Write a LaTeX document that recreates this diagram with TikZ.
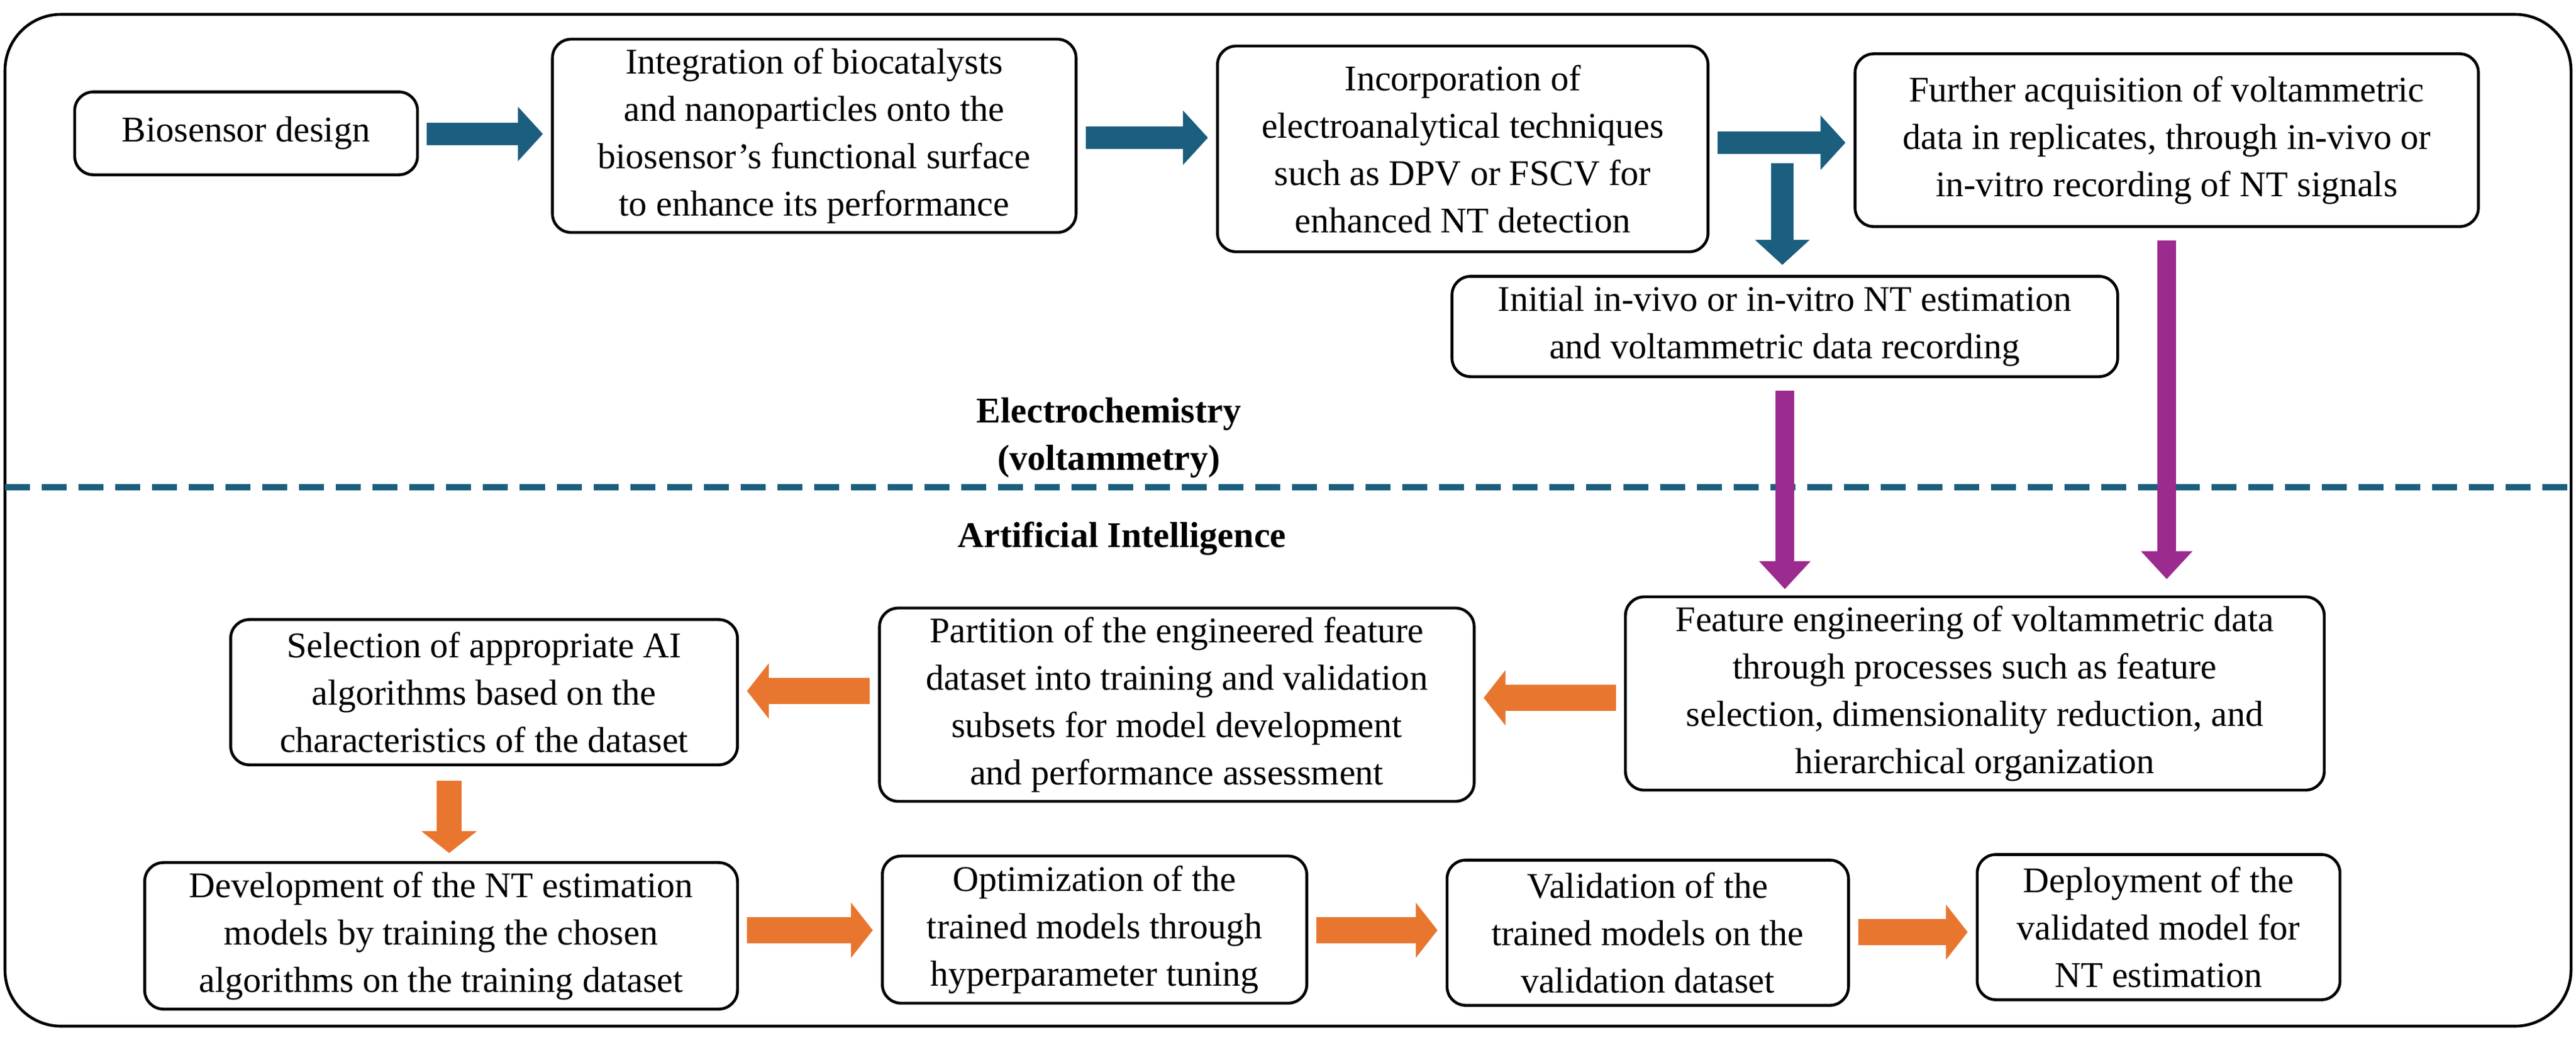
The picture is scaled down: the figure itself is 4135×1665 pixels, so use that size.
\documentclass[tikz,border=0pt]{standalone}
\usepackage{fontspec}
\setmainfont{Liberation Serif}
\usetikzlibrary{arrows.meta}
\definecolor{cblue}{HTML}{1B5E7E}
\definecolor{cpurp}{HTML}{9B2B8E}
\definecolor{corng}{HTML}{E8762F}
\begin{document}
\begin{tikzpicture}[x=0.01cm,y=-0.01cm,
  box/.style={draw,line width=1.3pt,rounded corners=0.3cm,fill=white,align=center,inner sep=0pt,
    font=\fontsize{16.5}{21.6}\selectfont},
  barrow/.style={line width=0.36cm,-{Triangle[width=0.85cm,length=0.4cm]},shorten <=0.13cm,shorten >=0.13cm},
  blue arrow/.style={barrow,draw=cblue},
  purple arrow/.style={line width=0.3cm,-{Triangle[width=0.8cm,length=0.45cm]},draw=cpurp,shorten <=0.2cm,shorten >=0.1cm},
  orange arrow/.style={barrow,draw=corng,line width=0.42cm,-{Triangle[width=0.87cm,length=0.35cm]}},
  lab/.style={font=\fontsize{16.5}{21.6}\selectfont\bfseries,align=center}]
\useasboundingbox (0,0) rectangle (4135,1665);
\draw[line width=1.3pt,rounded corners=0.9cm] (8,23) rectangle (4127,1647);
% top boxes
\node[box,minimum width=5.5cm,minimum height=1.33cm] (b1) at (395,214) {Biosensor design};
\node[box,minimum width=8.4cm,minimum height=3.1cm] (b2) at (1307,218) {Integration of biocatalysts\\and nanoparticles onto the\\biosensor’s functional surface\\to enhance its performance};
\node[box,minimum width=7.87cm,minimum height=3.3cm] (b3) at (2348,239) {Incorporation of\\electroanalytical techniques\\such as DPV or FSCV for\\enhanced NT detection};
\node[box,minimum width=10.0cm,minimum height=2.77cm] (b4) at (3478,225) {Further acquisition of voltammetric\\data in replicates, through in-vivo or\\in-vitro recording of NT signals};
\node[box,minimum width=10.68cm,minimum height=1.61cm] (b5) at (2865,524) {Initial in-vivo or in-vitro NT estimation\\and voltammetric data recording};
\node[lab] (ec) at (1780,703) {Electrochemistry\\(voltammetry)};
\node[lab] (ai) at (1801,864) {Artificial Intelligence};
\coordinate (dl) at (8,782); \coordinate (dr) at (4127,782);
\draw[cblue,line width=0.1cm,dash pattern=on 0.4cm off 0.19cm] (dl) -- (dr);
% bottom boxes
\node[box,minimum width=11.21cm,minimum height=3.1cm] (f) at (3170,1113) {Feature engineering of voltammetric data\\through processes such as feature\\selection, dimensionality reduction, and\\hierarchical organization};
\node[box,minimum width=9.54cm,minimum height=3.1cm] (p) at (1889,1131) {Partition of the engineered feature\\dataset into training and validation\\subsets for model development\\and performance assessment};
\node[box,minimum width=8.13cm,minimum height=2.33cm] (s) at (777,1111) {Selection of appropriate AI\\algorithms based on the\\characteristics of the dataset};
\node[box,minimum width=9.51cm,minimum height=2.35cm] (d) at (708,1502) {Development of the NT estimation\\models by training the chosen\\algorithms on the training dataset};
\node[box,minimum width=6.81cm,minimum height=2.36cm] (o) at (1757,1492) {Optimization of the\\trained models through\\hyperparameter tuning};
\node[box,minimum width=6.44cm,minimum height=2.33cm] (v) at (2645,1497) {Validation of the\\trained models on the\\validation dataset};
\node[box,minimum width=5.82cm,minimum height=2.33cm] (dp) at (3465,1488) {Deployment of the\\validated model for\\NT estimation};
% arrows
\draw[blue arrow] (b1.east |- 0,215) -- (b2.west |- 0,215);
\draw[blue arrow] (b2.east |- 0,221) -- (b3.west |- 0,221);
\draw[blue arrow] (b3.east |- 0,229) -- (b4.west |- 0,229);
\coordinate (ds) at (2861,262);
\draw[blue arrow,shorten <=0pt,shorten >=0.16cm] (ds) -- (ds |- b5.north);
\draw[purple arrow] (b5.south) -- (b5.south |- f.north);
\draw[purple arrow,shorten >=0.26cm] (b4.south) -- (b4.south |- f.north);
\draw[orange arrow] (f.west |- 0,1120) -- (p.east |- 0,1120);
\draw[orange arrow] (p.west |- 0,1109) -- (s.east |- 0,1109);
\draw[orange arrow,line width=0.4cm] (721,1240) -- (721,1240 |- d.north);
\draw[orange arrow] (d.east |- 0,1493) -- (o.west |- 0,1493);
\draw[orange arrow] (o.east |- 0,1493) -- (v.west |- 0,1493);
\draw[orange arrow] (v.east |- 0,1496) -- (dp.west |- 0,1496);
\end{tikzpicture}
\end{document}
